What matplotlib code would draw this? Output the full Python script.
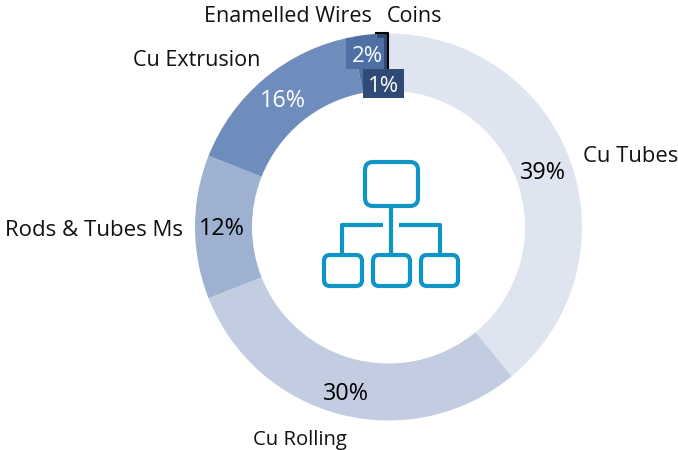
import matplotlib.pyplot as plt
from matplotlib.patches import FancyBboxPatch, Rectangle

plt.rcParams['font.family'] = ['Open Sans', 'DejaVu Sans']

labels = ['Cu Tubes', 'Cu Rolling', 'Rods & Tubes Ms', 'Cu Extrusion', 'Enamelled Wires', 'Coins']
values = [39, 30, 12, 16, 2, 1]
colors = ['#dee4f0', '#c2cde1', '#9fb1d1', '#6f8dbc', '#4f70a5', '#2f4a75']

H = 450
fig = plt.figure(figsize=(6.78, 4.5), dpi=100)
ax = fig.add_axes([0, 0, 1, 1])

# ring, everything else is placed in pixel coords
ax.pie(values, colors=colors, startangle=90, counterclock=False, radius=193.5,
       center=(388.5, H - 227), wedgeprops={'width': 57})
ax.set_xlim(0, 678)
ax.set_ylim(0, H)
ax.axis('off')

# leader line for Coins
ax.plot([376, 388, 388], [H - 33, H - 33, H - 70], color='black', lw=1.5, zorder=3)

# background boxes behind the two small labels
ax.add_patch(Rectangle((346, H - 69), 38, 31, fc=colors[4], ec='none', zorder=2.5))
ax.add_patch(Rectangle((363, H - 98), 41, 29, fc=colors[5], ec='none', zorder=3.5))

# percent labels
pct_pos = [(543, 173), (346, 394), (222, 229), (283, 101), (367, 56), (384, 86)]
pct_col = ['black', 'black', 'black', 'white', 'white', 'white']
pct_fs = [16.8, 16.8, 16.8, 16.8, 16, 16]
for v, (x, y), c, fs in zip(values, pct_pos, pct_col, pct_fs):
    ax.text(x, H - y, f'{v}%', color=c, fontsize=fs, ha='center', va='center', zorder=4)

# category labels
cat_pos = [(631, 157), (300, 440), (94, 230), (197, 61), (288, 17), (415, 16)]
cat_fs = [15.8, 14.6, 16, 15.5, 15.5, 15.5]
for name, (x, y), fs in zip(labels, cat_pos, cat_fs):
    ax.text(x, H - y, name, color='#111111', fontsize=fs, ha='center', va='center')

# org chart icon
blue = '#0f94c6'
def box(x0, y0, x1, y1, r):
    ax.add_patch(FancyBboxPatch((x0 + r, H - y1 + r), x1 - x0 - 2 * r, y1 - y0 - 2 * r,
                                boxstyle=f'round,pad={r},rounding_size={r}',
                                fc='none', ec=blue, lw=3, zorder=3))
box(365, 162, 418, 206, 8)
box(324, 255, 362, 286, 6)
box(373, 255, 410, 286, 6)
box(421, 255, 458, 286, 6)
ax.plot([391, 391], [H - 206, H - 255], color=blue, lw=3, solid_capstyle='butt')
ax.plot([383, 342, 342], [H - 225, H - 225, H - 255], color=blue, lw=3, solid_capstyle='butt')
ax.plot([399, 440, 440], [H - 225, H - 225, H - 255], color=blue, lw=3, solid_capstyle='butt')

fig.savefig('out.png', dpi=100)
